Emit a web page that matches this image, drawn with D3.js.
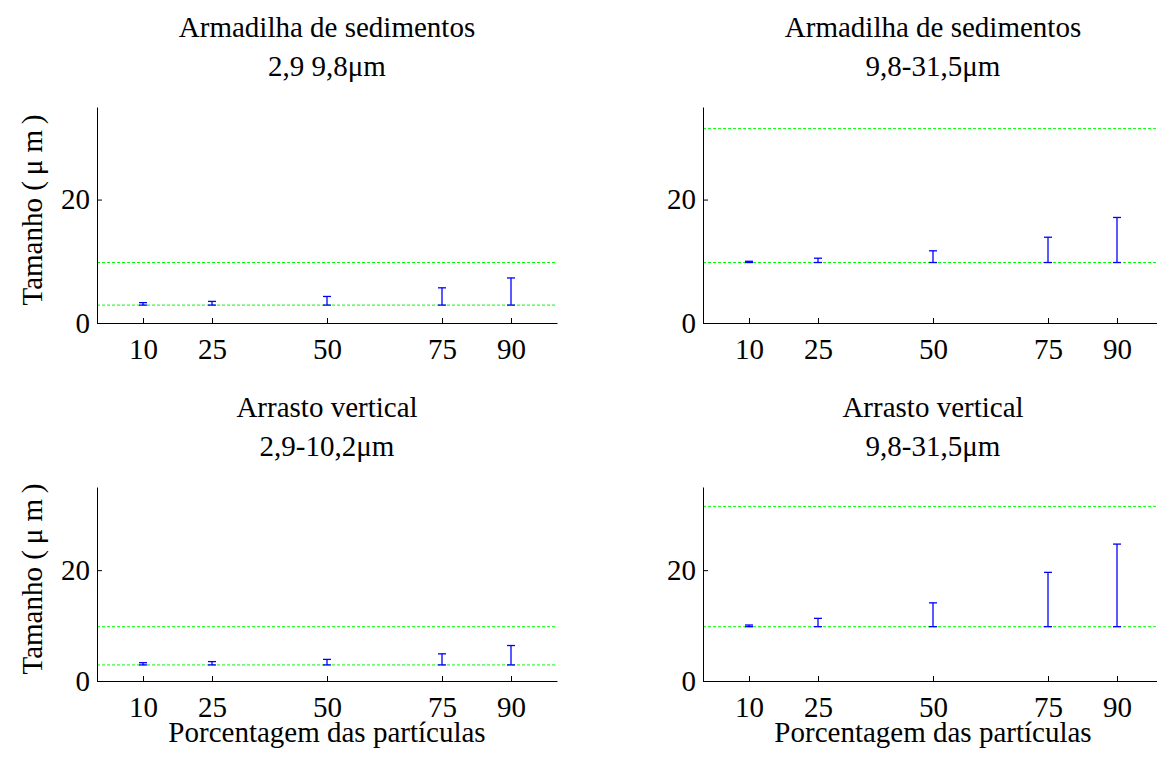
<!DOCTYPE html>
<html>
<head>
<meta charset="utf-8">
<script src="https://cdn.jsdelivr.net/npm/d3@7"></script>
<style>
  body { margin: 0; background: #fff; }
</style>
</head>
<body>
<div class="chart"></div>
<script>
// percentiles on the x axis
const percentiles = [10, 25, 50, 75, 90];
const yTicks = [0, 20];

// panel titles
const titlesTop = ["Armadilha de sedimentos", "Armadilha de sedimentos", "Arrasto vertical", "Arrasto vertical"];
const titlesSub = ["2,9 9,8\u03bcm", "9,8-31,5\u03bcm", "2,9-10,2\u03bcm", "9,8-31,5\u03bcm"];

// error bar ends (µm)
const lowTL = [2.9, 2.9, 2.9, 2.9, 2.9];
const highTL = [3.3, 3.5, 4.3, 5.7, 7.3];
const lowTR = [9.8, 9.8, 9.8, 9.8, 9.8];
const highTR = [10.0, 10.5, 11.7, 13.9, 17.1];
const lowBL = [2.9, 2.9, 2.9, 2.9, 2.9];
const highBL = [3.3, 3.5, 3.9, 4.9, 6.4];
const lowBR = [9.8, 9.8, 9.8, 9.8, 9.8];
const highBR = [10.1, 11.3, 14.1, 19.6, 24.7];

// class limits drawn as dashed lines
const limitsTL = [2.9, 9.8];
const limitsTR = [9.8, 31.5];
const limitsBL = [2.9, 9.8];
const limitsBR = [9.8, 31.5];

const w = 1157;
const h = 758;
const fontSize = 29;
const font = "'Liberation Serif', 'DejaVu Serif', serif";

const panels = [
    { x: 97, y: 107, height: 216, low: lowTL, high: highTL, limits: limitsTL, ylabel: true, xlabel: false },
    { x: 703, y: 107, height: 216, low: lowTR, high: highTR, limits: limitsTR, ylabel: false, xlabel: false },
    { x: 97, y: 487, height: 194, low: lowBL, high: highBL, limits: limitsBL, ylabel: true, xlabel: true },
    { x: 703, y: 487, height: 194, low: lowBR, high: highBR, limits: limitsBR, ylabel: false, xlabel: true },
];
const panelWidth = 460;

const svg = d3
    .select(".chart")
    .append("svg")
    .attr("width", w)
    .attr("height", h)
    .attr("font-family", font);

panels.forEach((p, i) => {
    const g = svg.append("g").attr("transform", "translate(" + p.x + "," + p.y + ")");

    const xScale = d3.scaleLinear().domain([0, 100]).range([0, panelWidth]);
    const yScale = d3.scaleLinear().domain([0, 35]).range([p.height, 0]);

    // dashed limit lines
    g.selectAll(".limit")
        .data(p.limits)
        .enter()
        .append("line")
        .attr("x1", 0)
        .attr("x2", panelWidth)
        .attr("y1", d => yScale(d))
        .attr("y2", d => yScale(d))
        .attr("stroke", "#00ff00")
        .attr("stroke-width", 1)
        .attr("stroke-dasharray", "3,2");

    const bars = percentiles.map((pc, j) => ({ x: pc, lo: p.low[j], hi: p.high[j] }));
    const cap = 4;

    const bar = g.selectAll(".bar").data(bars).enter().append("g");
    bar.append("line")
        .attr("x1", d => xScale(d.x))
        .attr("x2", d => xScale(d.x))
        .attr("y1", d => yScale(d.lo))
        .attr("y2", d => yScale(d.hi));
    bar.append("line")
        .attr("x1", d => xScale(d.x) - cap)
        .attr("x2", d => xScale(d.x) + cap)
        .attr("y1", d => yScale(d.lo))
        .attr("y2", d => yScale(d.lo));
    bar.append("line")
        .attr("x1", d => xScale(d.x) - cap)
        .attr("x2", d => xScale(d.x) + cap)
        .attr("y1", d => yScale(d.hi))
        .attr("y2", d => yScale(d.hi));
    bar.selectAll("line").attr("stroke", "#0000ff").attr("stroke-width", 1.3);

    const xAxis = d3.axisBottom(xScale).tickValues(percentiles).tickSizeInner(-5).tickSizeOuter(0).tickPadding(15);
    const yAxis = d3.axisLeft(yScale).tickValues(yTicks).tickSizeInner(-5).tickSizeOuter(0).tickPadding(7);

    const gx = g.append("g")
        .attr("transform", "translate(0," + p.height + ")")
        .call(xAxis);
    const gy = g.append("g").call(yAxis);

    [gx, gy].forEach(a => {
        a.attr("font-family", font).attr("font-size", fontSize);
        a.selectAll("path, line").attr("stroke", "#000").attr("stroke-width", 1);
        a.selectAll("text").attr("font-size", fontSize).attr("font-family", font).attr("fill", "#000");
    });

    // titles
    g.append("text")
        .attr("x", panelWidth / 2)
        .attr("y", -70)
        .attr("text-anchor", "middle")
        .attr("font-family", font)
        .attr("font-size", fontSize)
        .text(titlesTop[i]);
    g.append("text")
        .attr("x", panelWidth / 2)
        .attr("y", -31)
        .attr("text-anchor", "middle")
        .attr("font-family", font)
        .attr("font-size", fontSize)
        .text(titlesSub[i]);

    if (p.ylabel) {
        g.append("text")
            .attr("transform", "translate(-55," + (p.height / 2 - 5) + ") rotate(-90)")
            .attr("text-anchor", "middle")
            .attr("font-family", font)
            .attr("font-size", fontSize)
            .text("Tamanho (\u2009\u03bc\u00a0m\u2009)");
    }
    if (p.xlabel) {
        g.append("text")
            .attr("x", panelWidth / 2)
            .attr("y", p.height + 61)
            .attr("text-anchor", "middle")
            .attr("font-family", font)
            .attr("font-size", fontSize)
            .text("Porcentagem das partículas");
    }
});
</script>
</body>
</html>
